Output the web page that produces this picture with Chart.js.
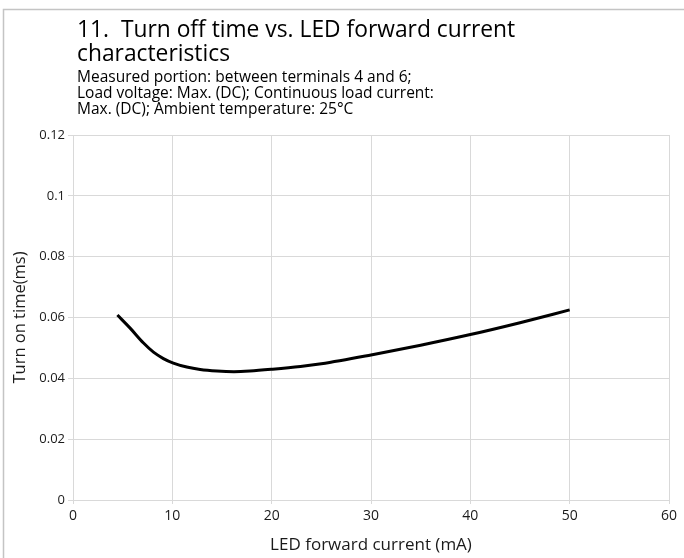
<!DOCTYPE html>
<html>
<head>
<meta charset="utf-8">
<script src="https://cdn.jsdelivr.net/npm/chart.js@4.4.0/dist/chart.umd.min.js"></script>
<style>
  html, body { margin: 0; padding: 0; background: #fff; }
  #wrap { width: 684px; height: 558px; position: relative; }
</style>
</head>
<body>
<div id="wrap"><canvas id="c" width="684" height="558"></canvas></div>
<script>
// ---- data ----
const currentMA = [4.47, 5.75, 7.1, 8.1, 9.1, 10.1, 11.45, 12.8, 14.5, 16.2, 17.8, 20.1, 22.9, 25, 30, 35, 40, 45, 50];
const turnTimeMs = [0.0608, 0.0565, 0.0516, 0.0486, 0.0465, 0.0450, 0.0437, 0.0429, 0.0424, 0.0422, 0.0424, 0.0430, 0.0439, 0.0448, 0.0477, 0.0509, 0.0544, 0.0583, 0.0625];
const xTicks = [0, 10, 20, 30, 40, 50, 60];
const yTicks = [0, 0.02, 0.04, 0.06, 0.08, 0.1, 0.12];
const titleLines = ['11.  Turn off time vs. LED forward current', 'characteristics'];
const subtitleLines = [
  'Measured portion: between terminals 4 and 6;',
  'Load voltage: Max. (DC); Continuous load current:',
  'Max. (DC); Ambient temperature: 25°C'
];
const xTitle = 'LED forward current (mA)';
const yTitle = 'Turn on time(ms)';

const FONT = '"Open Sans", "Noto Sans", sans-serif';

const headerPlugin = {
  id: 'header',
  beforeDraw(chart) {
    const ctx = chart.ctx;
    ctx.save();
    ctx.fillStyle = '#fff';
    ctx.fillRect(0, 0, chart.width, chart.height);
    ctx.strokeStyle = '#c4c4c4';
    ctx.lineWidth = 1.5;
    ctx.beginPath();
    ctx.moveTo(chart.width, 9.5);
    ctx.lineTo(3.5, 9.5);
    ctx.lineTo(3.5, chart.height);
    ctx.stroke();
    ctx.restore();
  },
  afterDraw(chart) {
    const ctx = chart.ctx;
    ctx.save();
    ctx.fillStyle = '#000';
    ctx.textAlign = 'left';
    ctx.textBaseline = 'alphabetic';
    ctx.font = '22.8px ' + FONT;
    const tb = [37, 61];
    titleLines.forEach((t, i) => ctx.fillText(t, 77, tb[i]));
    ctx.font = '15.5px ' + FONT;
    const sb = [82, 98, 114];
    subtitleLines.forEach((t, i) => ctx.fillText(t, 77, sb[i]));
    ctx.restore();
  }
};

new Chart(document.getElementById('c'), {
  type: 'line',
  data: {
    datasets: [{
      data: currentMA.map((x, i) => ({ x: x, y: turnTimeMs[i] })),
      borderColor: '#000',
      borderWidth: 3,
      pointRadius: 0,
      fill: false,
      cubicInterpolationMode: 'monotone'
    }]
  },
  options: {
    responsive: false,
    animation: false,
    devicePixelRatio: 1,
    layout: { padding: { left: 0, right: 15, top: 135, bottom: 0 } },
    plugins: {
      legend: { display: false },
      tooltip: { enabled: false },
      title: { display: false }
    },
    scales: {
      x: {
        type: 'linear',
        min: 0, max: 60,
        afterBuildTicks: (s) => { s.ticks = xTicks.map(v => ({ value: v })); },
        afterFit: (s) => { s.height = 58; },
        grid: { color: '#d9d9d9', lineWidth: 1, tickLength: 4 },
        border: { color: '#d9d9d9' },
        ticks: { color: '#1a1a1a', font: { family: FONT, size: 14 }, padding: 4, maxRotation: 0 },
        title: { display: true, text: xTitle, color: '#1a1a1a', font: { family: FONT, size: 17 }, padding: { top: 1, bottom: 3 } }
      },
      y: {
        type: 'linear',
        min: 0, max: 0.12,
        afterBuildTicks: (s) => { s.ticks = yTicks.map(v => ({ value: v })); },
        afterFit: (s) => { s.width = 73; },
        grid: { color: '#d9d9d9', lineWidth: 1, tickLength: 5 },
        border: { color: '#d9d9d9' },
        ticks: { color: '#1a1a1a', font: { family: FONT, size: 13 }, padding: 3,
          callback: (v) => String(Math.round(v * 100) / 100) },
        title: { display: true, text: yTitle, color: '#1a1a1a', font: { family: FONT, size: 16.5 }, padding: { top: 10, bottom: 4 } }
      }
    }
  },
  plugins: [headerPlugin]
});
</script>
</body>
</html>
